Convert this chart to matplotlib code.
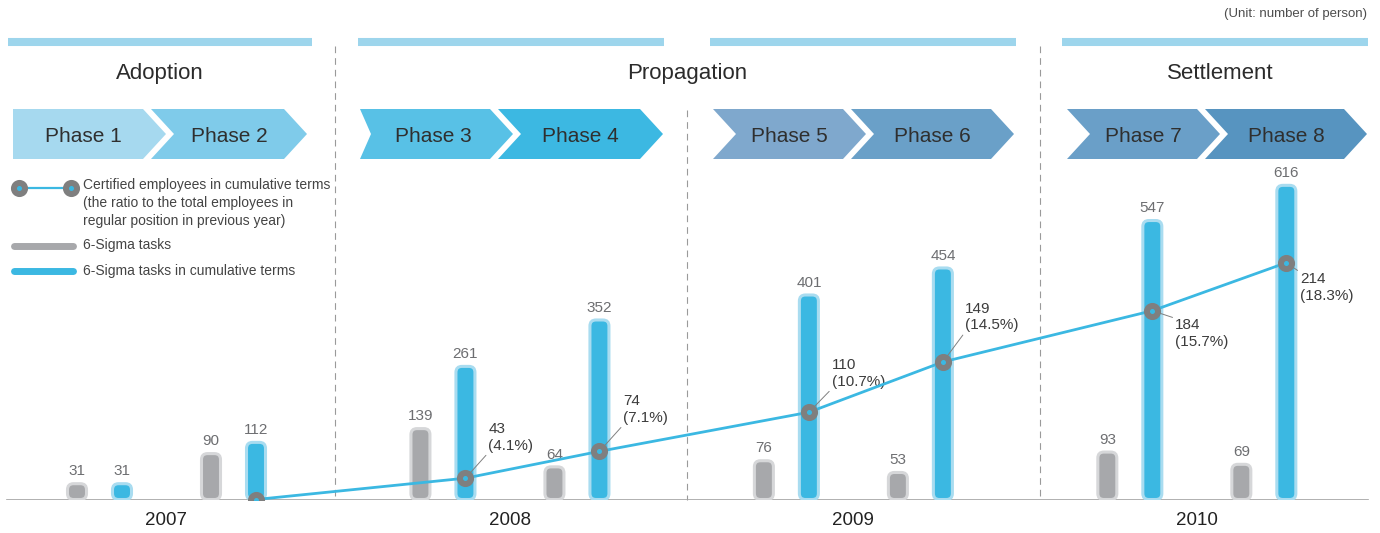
import matplotlib.pyplot as plt
import numpy as np
from matplotlib.patches import FancyBboxPatch, Polygon

plt.rcParams['font.family'] = ['Liberation Sans', 'DejaVu Sans']

# ---- data ----
years = ['2007', '2008', '2009', '2010']
stages = ['Adoption', 'Propagation', 'Settlement']
phases = ['Phase 1', 'Phase 2', 'Phase 3', 'Phase 4',
          'Phase 5', 'Phase 6', 'Phase 7', 'Phase 8']
sigma_tasks = [31, 90, 139, 64, 76, 53, 93, 69]
sigma_tasks_cum = [31, 112, 261, 352, 401, 454, 547, 616]
# certified employees (cumulative) from Phase 2 on, with ratio in %
certified = [0, 43, 74, 110, 149, 184, 214]
certified_ratio = [None, 4.1, 7.1, 10.7, 14.5, 15.7, 18.3]

# ---- style ----
BLUE = '#3bb8e2'
BLUE_EDGE = '#a9dcf0'
GRAY = '#a7a8ab'
GRAY_EDGE = '#d6d7d9'
RING = '#7f7f7f'
HEADER = '#9dd5ec'
phase_colors = ['#a6d9ef', '#7fcbea', '#58c1e6', '#3cb8e2',
                '#7fa8cd', '#6aa0c8', '#6a9fc8', '#5794c0']

W, H = 1380, 533
BASE = 499.5            # baseline, pixels from top
PX_X = 134.0            # pixels per phase slot
PX_Y = 0.51             # pixels per person (bars)

fig = plt.figure(figsize=(W / 100, H / 100), dpi=100)

# decoration layer in pixel coordinates
deco = fig.add_axes([0, 0, 1, 1])
deco.set_xlim(0, W)
deco.set_ylim(H, 0)
deco.axis('off')

ax = fig.add_axes([0, (H - BASE) / H, 1, BASE / H])
ax.set_zorder(1)
ax.patch.set_visible(False)

idx = np.arange(len(phases))
pos = idx + (idx // 2) * 0.563
ax.set_xlim(-99.5 / PX_X, (W - 99.5) / PX_X)
ax.set_ylim(0, BASE / PX_Y)

bar_w = 19 / PX_X
off = 22.5 / PX_X
aspect = (1 / PX_Y) * PX_X
radius = 6 / PX_X


def rounded_bars(x, heights, face, edge):
    bars = ax.bar(x, heights, width=bar_w, color=face)
    for b in bars:
        b.set_visible(False)
        ax.add_patch(FancyBboxPatch(
            (b.get_x(), 0), b.get_width(), b.get_height(),
            boxstyle=f'round,pad=0,rounding_size={radius}',
            mutation_aspect=aspect, fc=face, ec=edge, lw=2.2, zorder=2))
    for xx, v in zip(x, heights):
        ax.annotate(str(v), xy=(xx, v), xytext=(0, 6), textcoords='offset points',
                    ha='center', va='baseline', fontsize=11, color='#6d6e71')


rounded_bars(pos - off, sigma_tasks, GRAY, GRAY_EDGE)
rounded_bars(pos + off, sigma_tasks_cum, BLUE, BLUE_EDGE)

ax.axhline(0, xmin=7 / W, xmax=1368 / W, color='#a3a3a3', lw=1.2, zorder=1)

year_pos = (pos[0::2] + pos[1::2]) / 2
ax.set_xticks(year_pos, years)
ax.tick_params(axis='x', length=0, pad=9, labelsize=13.5, labelcolor='#222222')
ax.set_yticks([])
for s in ax.spines.values():
    s.set_visible(False)

# ---- certified employees line ----
ax2 = ax.twinx()
ax2.set_zorder(2)
ax2.patch.set_visible(False)
p = 1.5
ax2.set_yscale('function', functions=(lambda v: np.sign(v) * np.abs(v) ** p,
                                      lambda v: np.sign(v) * np.abs(v) ** (1 / p)))
ax2.set_ylim(0, 352)
ax2.set_yticks([])
for s in ax2.spines.values():
    s.set_visible(False)

line_x = pos[1:] + off
ax2.plot(line_x, certified, color=BLUE, lw=2, marker='o', ms=8,
         mfc=BLUE, mec=RING, mew=4.3, zorder=5)

# label offsets in pixels (dx right, dy down) for each point
label_off = [None, (23, -41), (24, -42), (23, -39), (22, -45), (23, 23), (14, 25)]
for xx, v, r, o in zip(line_x, certified, certified_ratio, label_off):
    if r is None:
        continue
    dx, dy = o
    ax2.annotate(f'{v}\n({r}%)', xy=(xx, v), xytext=(dx * 0.72, -dy * 0.72),
                 textcoords='offset points', ha='left', va='center',
                 fontsize=11, color='#3c3c3c', linespacing=1.25, zorder=4,
                 arrowprops=dict(arrowstyle='-', color='#808080', lw=0.7,
                                 shrinkA=0, shrinkB=0,
                                 relpos=(0, 0) if dy < 0 else (0, 1)))

# ---- header ----
for x0, x1 in [(8, 312), (358, 664), (710, 1016), (1062, 1368)]:
    deco.plot([x0, x1], [41.5, 41.5], color=HEADER, lw=5.8, solid_capstyle='butt')

for name, xc in zip(stages, [160, 687, 1220]):
    deco.text(xc, 79, name, ha='center', va='baseline', fontsize=16, color='#2b2b2b')

col_left = [13, 360, 713, 1067]
col_right = [307, 663, 1014, 1367]
notches = [0, 23, 11, 23, 23, 23, 23, 23]
TIP, TOP, BOT = 23, 109, 159
MID = (TOP + BOT) / 2
for i, name in enumerate(phases):
    c = i // 2
    if i % 2 == 0:
        left, right = col_left[c], col_left[c] + 153
    else:
        left, right = col_left[c] + 138, col_right[c]
    n = notches[i]
    pts = [(left, TOP), (right - TIP, TOP), (right, MID), (right - TIP, BOT),
           (left, BOT), (left + n, MID)]
    deco.add_patch(Polygon(pts, closed=True, fc=phase_colors[i], ec='none'))
    xc = (left + n / 2 + right - TIP / 2) / 2
    deco.text(xc, 141.5, name, ha='center', va='baseline', fontsize=15, color='#2f2f2f')

# separators
for x, y0 in [(335, 46), (687, 110), (1040, 46)]:
    deco.plot([x, x], [y0, BASE], color='#9a9a9a', lw=0.8, ls=(0, (6, 4.5)))

deco.text(1367, 14, '(Unit: number of person)', ha='right', va='center',
          fontsize=9.5, color='#4d4d4d')

# ---- legend ----
deco.plot([19, 71], [188, 188], color=BLUE, lw=1.6, marker='o', ms=8,
          mfc=BLUE, mec=RING, mew=4.3)
deco.text(83, 178, 'Certified employees in cumulative terms\n'
          '(the ratio to the total employees in\n'
          'regular position in previous year)',
          ha='left', va='top', fontsize=10, color='#444444', linespacing=1.35)
deco.plot([14, 73], [245.5, 245.5], color=GRAY, lw=5, solid_capstyle='round')
deco.text(83, 245.5, '6-Sigma tasks', ha='left', va='center', fontsize=10, color='#444444')
deco.plot([14, 73], [271, 271], color=BLUE, lw=5, solid_capstyle='round')
deco.text(83, 271, '6-Sigma tasks in cumulative terms', ha='left', va='center',
          fontsize=10, color='#444444')

fig.savefig('out.png', dpi=100)
